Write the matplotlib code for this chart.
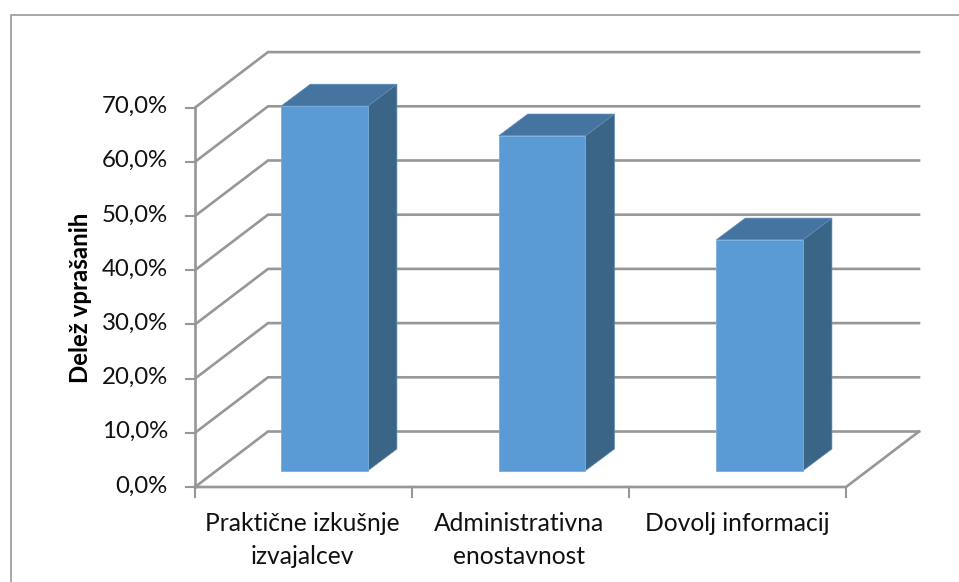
import matplotlib
matplotlib.use("Agg")
import matplotlib.pyplot as plt
from matplotlib.patches import Polygon

plt.rcParams['font.family'] = ['Lato', 'DejaVu Sans']

kategorije = ["Praktične izkušnje\nizvajalcev", "Administrativna\nenostavnost", "Dovolj informacij"]
delezi = [67.3, 61.8, 42.6]
ticki = [0, 10, 20, 30, 40, 50, 60, 70]
tick_labels = ["0,0%", "10,0%", "20,0%", "30,0%", "40,0%", "50,0%", "60,0%", "70,0%"]

# geometrija "3d" grafa v pikslih
X0, X1 = 195.0, 846.0
Y0 = 487.0
NA_ENOTO = 5.42   # pikslov na 1 %
GLOBINA = (73.0, -55.5)
SIVA = '#979797'

def y_val(v):
    return Y0 - v * NA_ENOTO

fig = plt.figure(figsize=(9.59, 5.82), dpi=100)
ax = fig.add_axes([0, 0, 1, 1])
ax.set_xlim(0, 959)
ax.set_ylim(582, 0)
ax.axis('off')

# okvir (desno in spodaj ga ni)
ax.plot([10.5, 10.5, 959], [582, 15, 15], color='#a0a0a0', lw=1.3)

# mreza
for t in ticki:
    y = y_val(t)
    ax.plot([X0, X0 + GLOBINA[0], X1 + GLOBINA[0]], [y, y + GLOBINA[1], y + GLOBINA[1]],
            color=SIVA, lw=1.9, solid_joinstyle='miter', zorder=1)
    ax.plot([X0 - 9, X0], [y, y], color=SIVA, lw=1.5, zorder=1)
    ax.text(X0 - 27, y - 1, tick_labels[t // 10], ha='right', va='center', fontsize=17.3, color='#111111')

# tla in os
ax.plot([X0, X1, X1 + GLOBINA[0]], [Y0, Y0, Y0 + GLOBINA[1]], color=SIVA, lw=1.9, zorder=1)
ax.plot([X0, X0], [y_val(0), y_val(70)], color=SIVA, lw=1.9, zorder=1)

sirina_kat = (X1 - X0) / len(kategorije)
for i in range(len(kategorije) + 1):
    x = X0 + i * sirina_kat
    ax.plot([x, x], [Y0, Y0 + 10], color=SIVA, lw=1.5, zorder=1)

# stolpci
SIR = 86.6
DX, DY = 29.0, -21.7
DNO = 470.7
for i, v in enumerate(delezi):
    lev = X0 + 86.3 + i * 217.5
    des = lev + SIR
    vrh = DNO - v * NA_ENOTO
    ax.add_patch(Polygon([(des, DNO), (des + DX, DNO + DY), (des + DX, vrh + DY), (des, vrh)],
                         fc='#3a6587', ec='#5c8ab0', lw=0.5, zorder=3))
    ax.add_patch(Polygon([(lev, vrh), (lev + DX, vrh + DY), (des + DX, vrh + DY), (des, vrh)],
                         fc='#44749f', ec='#5d8db8', lw=0.5, zorder=3))
    ax.add_patch(Polygon([(lev, DNO), (des, DNO), (des, vrh), (lev, vrh)],
                         fc='#5b9bd5', ec='#7aaedd', lw=0.6, zorder=4))
    ax.text(X0 + (i + 0.5) * sirina_kat - 1.5 + (1.5 if i == 2 else 0), 512, kategorije[i], ha='center', va='top',
            fontsize=17.7, color='#111111', linespacing=1.5)

ax.text(80, 298, "Delež vprašanih", rotation=90, ha='center', va='center',
        fontsize=17.3, fontweight='bold', color='black')

plt.savefig("out.png", dpi=100)
